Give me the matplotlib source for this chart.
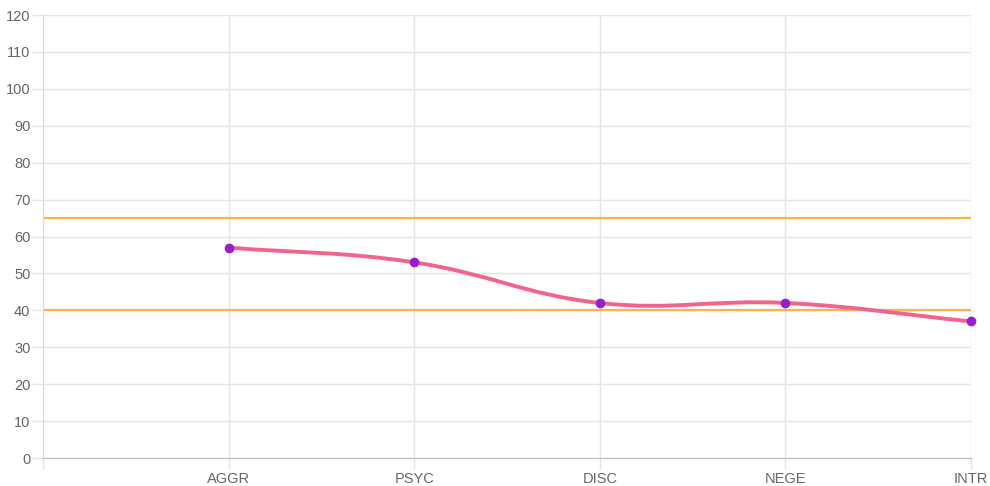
import numpy as np
import matplotlib
matplotlib.use("Agg")
import matplotlib.pyplot as plt
from matplotlib.path import Path
from matplotlib.patches import PathPatch

plt.rcParams["font.family"] = ["Liberation Sans", "DejaVu Sans"]

# data
categories = ["", "AGGR", "PSYC", "DISC", "NEGE", "INTR"]
scores = [None, 57, 53, 42, 42, 37]
upper_limit = 65
lower_limit = 40
y_ticks = list(range(0, 121, 10))

GRID = "#e5e5e5"
LABEL = "#666666"


def spline_path(ax, xs, ys, tension=0.4):
    """Chart.js style bezier through the points (computed in pixel space)."""
    pts = ax.transData.transform(np.column_stack([xs, ys]))
    n = len(pts)
    cps = []
    for i in range(n):
        prev = pts[i - 1] if i > 0 else pts[i]
        cur = pts[i]
        nxt = pts[i + 1] if i < n - 1 else pts[i]
        d01 = np.hypot(*(cur - prev))
        d12 = np.hypot(*(nxt - cur))
        tot = d01 + d12
        s01 = d01 / tot if tot else 0
        s12 = d12 / tot if tot else 0
        fa = tension * s01
        fb = tension * s12
        cps.append((cur - fa * (nxt - prev), cur + fb * (nxt - prev)))
    verts = [pts[0]]
    codes = [Path.MOVETO]
    for i in range(1, n):
        verts += [cps[i - 1][1], cps[i][0], pts[i]]
        codes += [Path.CURVE4] * 3
    verts = ax.transData.inverted().transform(np.array(verts))
    return Path(verts, codes)


fig = plt.figure(figsize=(9.9, 4.86), dpi=100)
ax = fig.add_axes([43 / 990, 28 / 486, 928 / 990, 443 / 486])
x = np.arange(len(categories))
ax.set_xlim(0, len(categories) - 1)
ax.set_ylim(0, 120)

ax.set_xticks(x)
ax.set_xticklabels(categories)
ax.set_yticks(y_ticks)
ax.grid(True, color=GRID, linewidth=1)
ax.set_axisbelow(True)
ax.tick_params(axis="both", length=8, width=1, color=GRID, labelcolor=LABEL, labelsize=10.5)
ax.tick_params(axis="x", pad=2)
ax.tick_params(axis="y", pad=1)
for side in ["top", "right"]:
    ax.spines[side].set_visible(False)
ax.spines["left"].set_color("#d9d9d9")
ax.spines["bottom"].set_color("#bdbdbd")

ax.axhline(upper_limit, color="#ffb347", linewidth=1.6, zorder=2)
ax.axhline(lower_limit, color="#ffb347", linewidth=1.6, zorder=2)

xs = [xi for xi, v in zip(x, scores) if v is not None]
ys = [v for v in scores if v is not None]
fig.canvas.draw()
path = spline_path(ax, xs, ys)
ax.add_patch(PathPatch(path, facecolor="none", edgecolor="#f3648c", linewidth=2.8,
                       capstyle="round", zorder=3))
ax.plot(xs, ys, "o", color="#9b1dcc", markersize=6, zorder=4, clip_on=False)

fig.savefig("out.png", dpi=100, facecolor="white")
